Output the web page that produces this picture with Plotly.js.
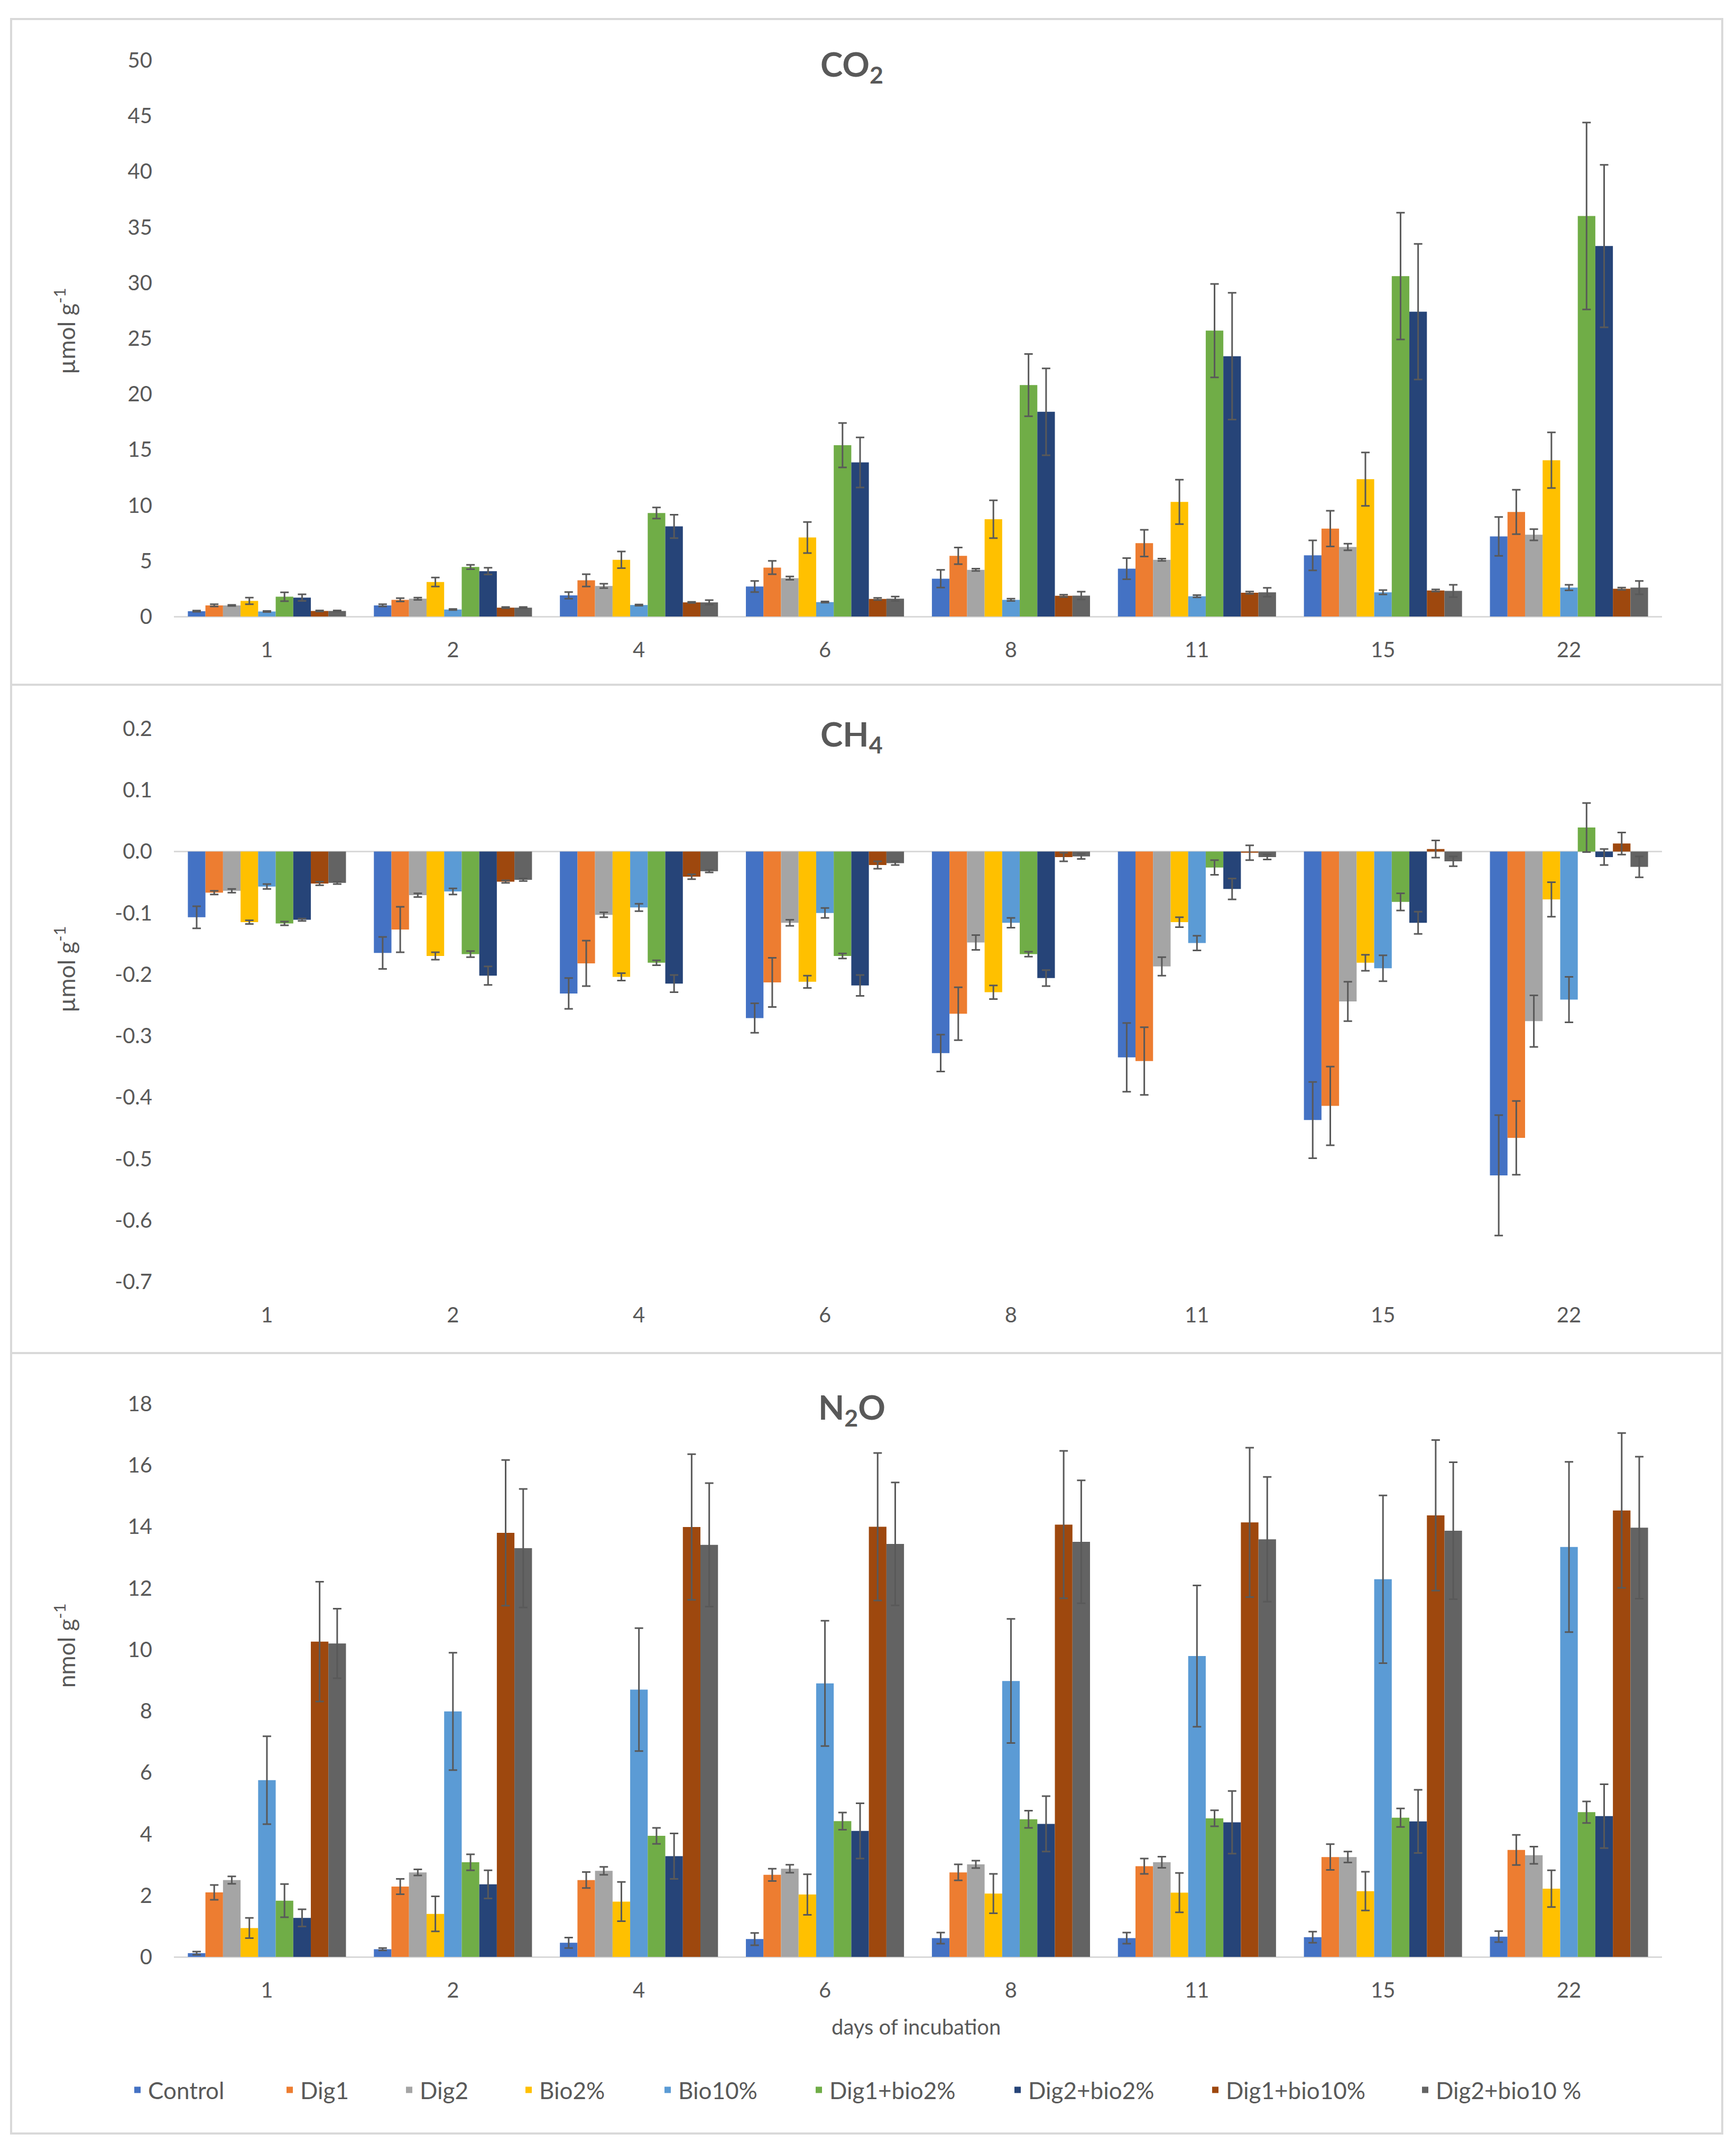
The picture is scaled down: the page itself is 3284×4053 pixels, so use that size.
<!DOCTYPE html>
<html>
<head>
<meta charset="utf-8">
<script src="https://cdn.plot.ly/plotly-3.0.1.min.js"></script>
<style>
  body { margin: 0; background: #ffffff; }
  #chart { width: 3284px; height: 4053px; }
</style>
</head>
<body>
<div id="chart"></div>
<script>
var days = ["1", "2", "4", "6", "8", "11", "15", "22"];
var treatments = ["Control", "Dig1", "Dig2", "Bio2%", "Bio10%", "Dig1+bio2%", "Dig2+bio2%", "Dig1+bio10%", "Dig2+bio10 %"];
var colors = ["#4472C4", "#ED7D31", "#A5A5A5", "#FFC000", "#5B9BD5", "#70AD47", "#264478", "#9E480E", "#636363"];

// CO2, umol g-1 (rows = treatments, columns = days)
var co2Mean = [
    [0.48, 1.0, 1.9, 2.7, 3.4, 4.3, 5.5, 7.2],
    [1.0, 1.5, 3.25, 4.4, 5.45, 6.6, 7.9, 9.4],
    [1.0, 1.6, 2.75, 3.45, 4.2, 5.1, 6.25, 7.35],
    [1.4, 3.1, 5.1, 7.1, 8.75, 10.3, 12.35, 14.05],
    [0.45, 0.63, 1.03, 1.3, 1.5, 1.82, 2.18, 2.6],
    [1.78, 4.45, 9.3, 15.4, 20.8, 25.7, 30.6, 36.0],
    [1.7, 4.08, 8.1, 13.85, 18.4, 23.4, 27.4, 33.3],
    [0.5, 0.8, 1.27, 1.58, 1.86, 2.14, 2.34, 2.5],
    [0.5, 0.8, 1.27, 1.6, 1.88, 2.18, 2.3, 2.6]
];
var co2Err = [
    [0.05, 0.1, 0.3, 0.5, 0.8, 0.95, 1.35, 1.75],
    [0.1, 0.15, 0.55, 0.6, 0.75, 1.2, 1.6, 2.0],
    [0.05, 0.1, 0.2, 0.15, 0.1, 0.1, 0.3, 0.5],
    [0.3, 0.4, 0.75, 1.4, 1.7, 2.0, 2.4, 2.5],
    [0.05, 0.05, 0.05, 0.05, 0.1, 0.1, 0.2, 0.25],
    [0.4, 0.2, 0.5, 2.0, 2.8, 4.2, 5.7, 8.4],
    [0.3, 0.3, 1.05, 2.25, 3.9, 5.7, 6.1, 7.3],
    [0.05, 0.05, 0.05, 0.1, 0.1, 0.1, 0.1, 0.1],
    [0.05, 0.05, 0.2, 0.2, 0.35, 0.4, 0.55, 0.6]
];

// CH4, umol g-1
var ch4Mean = [
    [-0.107, -0.165, -0.231, -0.271, -0.328, -0.335, -0.437, -0.527],
    [-0.067, -0.127, -0.182, -0.213, -0.264, -0.341, -0.414, -0.466],
    [-0.064, -0.071, -0.103, -0.116, -0.148, -0.187, -0.244, -0.276],
    [-0.115, -0.17, -0.204, -0.212, -0.229, -0.115, -0.181, -0.078],
    [-0.057, -0.065, -0.091, -0.1, -0.116, -0.149, -0.19, -0.241],
    [-0.117, -0.167, -0.181, -0.17, -0.167, -0.026, -0.082, 0.039],
    [-0.111, -0.202, -0.215, -0.218, -0.206, -0.061, -0.116, -0.009],
    [-0.052, -0.049, -0.041, -0.022, -0.009, -0.002, 0.004, 0.013],
    [-0.051, -0.046, -0.032, -0.019, -0.008, -0.009, -0.016, -0.025]
];
var ch4Err = [
    [0.018, 0.026, 0.025, 0.024, 0.03, 0.056, 0.062, 0.098],
    [0.003, 0.037, 0.037, 0.04, 0.043, 0.055, 0.064, 0.06],
    [0.003, 0.003, 0.004, 0.005, 0.012, 0.015, 0.032, 0.042],
    [0.003, 0.006, 0.006, 0.01, 0.011, 0.008, 0.013, 0.028],
    [0.004, 0.005, 0.006, 0.008, 0.008, 0.012, 0.021, 0.037],
    [0.003, 0.005, 0.004, 0.004, 0.004, 0.012, 0.014, 0.04],
    [0.002, 0.015, 0.014, 0.017, 0.013, 0.017, 0.018, 0.013],
    [0.003, 0.002, 0.004, 0.006, 0.007, 0.012, 0.014, 0.018],
    [0.002, 0.002, 0.002, 0.003, 0.004, 0.004, 0.008, 0.017]
];

// N2O, nmol g-1
var n2oMean = [
    [0.12, 0.25, 0.46, 0.58, 0.61, 0.61, 0.64, 0.66],
    [2.1, 2.29, 2.5, 2.67, 2.75, 2.95, 3.25, 3.48],
    [2.5, 2.75, 2.8, 2.87, 3.01, 3.08, 3.25, 3.31],
    [0.94, 1.4, 1.8, 2.03, 2.06, 2.09, 2.14, 2.22],
    [5.75, 7.99, 8.7, 8.9, 8.98, 9.79, 12.29, 13.34],
    [1.83, 3.08, 3.94, 4.42, 4.48, 4.51, 4.53, 4.71],
    [1.27, 2.36, 3.28, 4.1, 4.33, 4.38, 4.41, 4.58],
    [10.26, 13.8, 13.99, 14.0, 14.07, 14.14, 14.37, 14.53],
    [10.2, 13.3, 13.41, 13.44, 13.51, 13.59, 13.87, 13.97]
];
var n2oErr = [
    [0.05, 0.04, 0.17, 0.2, 0.18, 0.18, 0.18, 0.18],
    [0.24, 0.25, 0.26, 0.2, 0.26, 0.25, 0.42, 0.49],
    [0.12, 0.1, 0.13, 0.13, 0.12, 0.18, 0.18, 0.28],
    [0.33, 0.57, 0.64, 0.66, 0.64, 0.64, 0.63, 0.6],
    [1.43, 1.91, 2.0, 2.04, 2.02, 2.3, 2.73, 2.77],
    [0.54, 0.26, 0.26, 0.28, 0.28, 0.26, 0.3, 0.35],
    [0.28, 0.46, 0.74, 0.9, 0.9, 1.02, 1.03, 1.04],
    [1.95, 2.37, 2.37, 2.4, 2.4, 2.43, 2.45, 2.52],
    [1.13, 1.93, 2.01, 2.0, 2.0, 2.03, 2.23, 2.31]
];

var co2Ticks = [0, 5, 10, 15, 20, 25, 30, 35, 40, 45, 50];
var ch4Ticks = [-0.7, -0.6, -0.5, -0.4, -0.3, -0.2, -0.1, 0, 0.1, 0.2];
var ch4TickText = ["-0.7", "-0.6", "-0.5", "-0.4", "-0.3", "-0.2", "-0.1", "0.0", "0.1", "0.2"];
var n2oTicks = [0, 2, 4, 6, 8, 10, 12, 14, 16, 18];

var W = 3284, H = 4053;
var fontFam = "Lato, 'Open Sans', sans-serif";
var textCol = "#595959";
// left edge (px) of each legend entry along the bottom row
var legendLeft = [248, 536, 762, 988, 1251, 1537, 1913, 2287, 2684];

function px(x) { return x / W; }
function py(y) { return 1 - y / H; }

function legendName(i) {
    return i === 0 ? "legend" : "legend" + (i + 1);
}

function makeTraces(means, errs, xa, ya, showLeg) {
    var out = [];
    for (var i = 0; i < treatments.length; i++) {
        out.push({
            type: "bar",
            x: days,
            y: means[i],
            name: treatments[i],
            legendgroup: treatments[i],
            legend: legendName(i),
            showlegend: showLeg,
            xaxis: xa,
            yaxis: ya,
            marker: {color: colors[i], line: {width: 0}},
            error_y: {
                type: "data",
                array: errs[i],
                visible: true,
                color: textCol,
                thickness: 3,
                width: 8
            }
        });
    }
    return out;
}

function xAxis(anchor) {
    return {
        type: "category",
        domain: [px(329), px(3144)],
        anchor: anchor,
        showline: false,
        showgrid: false,
        zeroline: false,
        ticks: "",
        ticklabelstandoff: 36,
        tickfont: {family: fontFam, size: 40, color: textCol}
    };
}

function yAxis(top, bottom, range, vals, text) {
    var ax = {
        domain: [py(bottom), py(top)],
        range: range,
        tickvals: vals,
        showgrid: false,
        showline: false,
        zeroline: true,
        zerolinecolor: "#D9D9D9",
        zerolinewidth: 3,
        ticks: "",
        ticklabelstandoff: 40,
        tickfont: {family: fontFam, size: 40, color: textCol}
    };
    if (text) ax.ticktext = text;
    return ax;
}

function panelBox(y0, y1) {
    return {
        type: "rect", xref: "paper", yref: "paper",
        x0: px(21), x1: px(3258), y0: py(y1), y1: py(y0),
        line: {color: "#D9D9D9", width: 4},
        fillcolor: "rgba(0,0,0,0)",
        layer: "below"
    };
}

function label(text, x, y, size, angle) {
    return {
        text: text, xref: "paper", yref: "paper",
        x: px(x), y: py(y), xanchor: "center", yanchor: "middle",
        showarrow: false, textangle: angle || 0,
        font: {family: fontFam, size: size, color: textCol}
    };
}

function drawChart() {
    var data = []
        .concat(makeTraces(co2Mean, co2Err, "x", "y", true))
        .concat(makeTraces(ch4Mean, ch4Err, "x2", "y2", false))
        .concat(makeTraces(n2oMean, n2oErr, "x3", "y3", false));

    var layout = {
        width: W,
        height: H,
        margin: {l: 0, r: 0, t: 0, b: 0},
        paper_bgcolor: "#ffffff",
        plot_bgcolor: "rgba(0,0,0,0)",
        barmode: "group",
        bargap: 0.15,
        bargroupgap: 0,
        font: {family: fontFam, color: textCol},
        xaxis: xAxis("y"),
        xaxis2: xAxis("y2"),
        xaxis3: xAxis("y3"),
        yaxis: yAxis(114, 1166, [0, 50], co2Ticks),
        yaxis2: yAxis(1378, 2424, [-0.7, 0.2], ch4Ticks, ch4TickText),
        yaxis3: yAxis(2655, 3701, [0, 18], n2oTicks),
        showlegend: true,
        shapes: [panelBox(36, 1295), panelBox(1295, 2559), panelBox(2559, 4035)],
        annotations: [
            label("<b>CO<sub>2</sub></b>", 1611, 125, 64),
            label("<b>CH<sub>4</sub></b>", 1611, 1392, 64),
            label("<b>N<sub>2</sub>O</b>", 1611, 2665, 64),
            label("µmol g<sup>-1</sup>", 122, 626, 44, -90),
            label("µmol g<sup>-1</sup>", 122, 1833, 44, -90),
            label("nmol g<sup>-1</sup>", 122, 3112, 44, -90),
            label("days of incubation", 1733, 3833, 40)
        ]
    };

    for (var i = 0; i < treatments.length; i++) {
        layout[legendName(i)] = {
            orientation: "h",
            x: px(legendLeft[i] - 8), xanchor: "left",
            y: py(3953), yanchor: "middle",
            bgcolor: "rgba(0,0,0,0)",
            font: {family: fontFam, size: 44, color: textCol}
        };
    }

    Plotly.newPlot("chart", data, layout, {staticPlot: true});
}

drawChart();
</script>
</body>
</html>
